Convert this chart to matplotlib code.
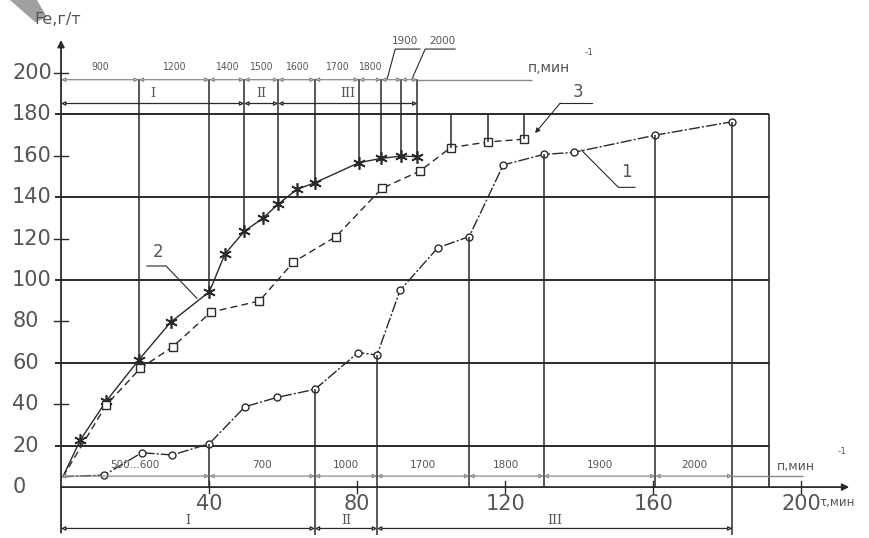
import numpy as np
import matplotlib
matplotlib.use('Agg')
from matplotlib import pyplot as plt
from matplotlib.patches import Polygon

plt.rcParams['font.family'] = ['DejaVu Sans']

# curve 1 (circles): time, min / Fe, g/t
t1 = [0.5, 11.7, 21.8, 30.1, 40.1, 49.7, 58.3, 68.6, 80.3, 85.4, 91.6, 101.8,
      110.3, 119.5, 130.4, 138.6, 160.6, 181.4]
fe1 = [5, 5.8, 16.6, 15.5, 21, 38.8, 43.3, 47.2, 65, 63.8, 95, 115.6,
       121, 155.6, 160.7, 161.7, 170, 176.5]
# curve 2 (stars)
t2 = [0.5, 5.2, 12.2, 21, 29.6, 40.1, 44.3, 49.5, 54.6, 58.7, 63.7, 68.6,
      80.5, 86.5, 92, 96.3]
fe2 = [5, 22.7, 41.5, 61.4, 79.6, 94.4, 112.6, 123.5, 130, 136.7, 143.8, 147,
       156.7, 158.8, 159.9, 159.6]
# curve 3 (squares)
t3 = [0.5, 12.2, 21.4, 30.2, 40.5, 53.6, 62.8, 74.3, 86.7, 97, 105.3, 115.3, 125.2]
fe3 = [5, 39.6, 57.3, 67.8, 84.5, 89.9, 108.7, 121, 144.3, 152.7, 164, 166.7, 168.1]

# speed zones for curve 2 (top) and curve 1 (bottom)
top_edges = [0, 21, 40.1, 49.5, 58.7, 68.6, 80.5, 86.5, 92, 96.3]
top_speeds = ['900', '1200', '1400', '1500', '1600', '1700', '1800', '1900', '2000']
top_stage_edges = [0, 49.5, 58.7, 96.3]
bot_edges = [0, 40.1, 68.6, 85.4, 110.3, 130.4, 160.6, 181.4]
bot_speeds = ['500...600', '700', '1000', '1700', '1800', '1900', '2000']
bot_stage_edges = [0, 68.6, 85.4, 181.4]
stages = ['I', 'II', 'III']
sq_drops = [105.3, 115.3, 125.2]

y_ticks = [0, 20, 40, 60, 80, 100, 120, 140, 160, 180, 200]
grid_y = [20, 60, 100, 140, 180]
x_ticks = [40, 80, 120, 160, 200]

ink = '#2a2a2a'
dim = '#8a8a8a'
txt = '#555555'

fig = plt.figure(figsize=(8.7, 5.38), dpi=100)
ax = fig.add_axes([0, 0, 1, 1])
ax.set_xlim(-16.49, 218.6)
ax.set_ylim(-24.6, 235.3)
ax.axis('off')

# scan shadow in the corner
ax.add_patch(Polygon([(-13.8, 235.3), (-6.5, 235.3), (-3.8, 227), (-7.0, 224.6)],
                     closed=True, color='#a0a0a0', lw=0, zorder=0))

# axes with arrows
ax.annotate('', xy=(213, 0), xytext=(0, 0),
            arrowprops=dict(arrowstyle='-|>', lw=1.3, color=ink, mutation_scale=10,
                            shrinkA=0, shrinkB=0))
ax.annotate('', xy=(0, 216), xytext=(0, -22),
            arrowprops=dict(arrowstyle='-|>', lw=1.3, color=ink, mutation_scale=10,
                            shrinkA=0, shrinkB=0))

# grid
ax.hlines(grid_y, -1.6, 191.4, color=ink, lw=1.4)
ax.vlines(191.4, 0, 180, color=ink, lw=1.2)

# ticks and labels
for v in y_ticks:
    if v not in grid_y and v != 0:
        ax.plot([-1.8, 1.8], [v, v], color=ink, lw=1)
    ax.text(-13.2, v, str(v), ha='left', va='center', fontsize=15, color=txt)
for v in x_ticks:
    ax.plot([v, v], [-3, 3], color=ink, lw=1)
    ax.text(v, -8, str(v), ha='center', va='center', fontsize=15, color=txt)
ax.text(-1, 226, 'Fe,г/т', ha='center', va='center', fontsize=11.5, color=txt)
ax.text(205, -7.5, 'τ,мин', ha='left', va='center', fontsize=8.5, color=txt)

# curves
ax.plot(t2, fe2, color=ink, lw=1, ls='-', marker=(6, 2, 0), ms=9, mew=1.2,
        markevery=list(range(1, len(t2))))
ax.plot(t3, fe3, color=ink, lw=1, ls=(0, (5, 3)), marker='s', ms=5.5, mew=1,
        mfc='white', markevery=list(range(1, len(t3))))
ax.plot(t1, fe1, color=ink, lw=1, ls=(0, (8, 1.5, 1.5, 1.5)), marker='o', ms=5, mew=1,
        mfc='white', markevery=list(range(1, len(t1))))

# drop lines from star points to the top dimension line
for x in top_edges[1:]:
    y = fe2[t2.index(x)] if x in t2 else fe2[-1]
    ax.vlines(x, y, 197, color=ink, lw=1.1)
for x in sq_drops:
    ax.vlines(x, fe3[t3.index(x)], 180, color=ink, lw=1.1)


def dim_chain(edges, y, color=dim, lw=0.9):
    for a, b in zip(edges[:-1], edges[1:]):
        ax.annotate('', xy=(b, y), xytext=(a, y),
                    arrowprops=dict(arrowstyle='<|-|>', lw=lw, color=color,
                                    mutation_scale=6, shrinkA=0, shrinkB=0,
                                    fc='white'))


# top speed dimensions
dim_chain(top_edges, 196.8)
ax.hlines(196.8, 96.3, 127.4, color=dim, lw=1)
for a, b, s in zip(top_edges[:-1], top_edges[1:], top_speeds):
    if s in ('1900', '2000'):
        continue
    ax.text((a + b) / 2, 203, s, ha='center', va='center', fontsize=7.5,
            color=txt, fontstretch='condensed')
ax.text(93, 215.5, '1900', ha='center', va='center', fontsize=7.5, color=txt)
ax.plot([97, 90.3, 88.1], [211.6, 211.6, 197], color=ink, lw=0.8)
ax.text(103, 215.5, '2000', ha='center', va='center', fontsize=7.5, color=txt)
ax.plot([106.5, 98.4, 94.8], [211.6, 211.6, 197], color=ink, lw=0.8)
ax.text(126.2, 202.4, 'п,мин', ha='left', va='center', fontsize=10, color=txt)
ax.text(141.6, 210, '-1', ha='left', va='center', fontsize=6.5, color=txt)

dim_chain(top_stage_edges, 185.3, color=ink, lw=0.9)
for a, b, s in zip(top_stage_edges[:-1], top_stage_edges[1:], stages):
    ax.text((a + b) / 2, 190, s, ha='center', va='center', fontsize=9,
            color=txt, family='DejaVu Serif')

# bottom speed dimensions
for x in bot_edges[1:]:
    y = fe1[t1.index(x)]
    if x in bot_stage_edges[1:]:
        ax.vlines(x, -23, y, color=ink, lw=1.1)
    else:
        ax.vlines(x, 0, y, color=ink, lw=1.1)
dim_chain(bot_edges, 5.3)
ax.hlines(5.3, 181.4, 200.5, color=dim, lw=1)
for a, b, s in zip(bot_edges[:-1], bot_edges[1:], bot_speeds):
    ax.text((a + b) / 2, 10.5, s, ha='center', va='center', fontsize=7.5, color=txt)
ax.text(193.5, 10, 'п,мин', ha='left', va='center', fontsize=9, color=txt)
ax.text(209.8, 17, '-1', ha='left', va='center', fontsize=6.5, color=txt)

dim_chain(bot_stage_edges, -20, color=ink, lw=0.9)
for a, b, s in zip(bot_stage_edges[:-1], bot_stage_edges[1:], stages):
    ax.text((a + b) / 2, -16, s, ha='center', va='center', fontsize=9,
            color=txt, family='DejaVu Serif')

# curve number leaders
ax.plot([23.2, 28.4, 36.7], [106.8, 106.8, 91.2], color=ink, lw=0.8)
ax.text(26.3, 113.5, '2', ha='center', va='center', fontsize=12, color=txt)
ax.annotate('', xy=(128.1, 171), xytext=(134.9, 185.5),
            arrowprops=dict(arrowstyle='-|>', lw=0.8, color=ink, mutation_scale=7,
                            shrinkA=0, shrinkB=0))
ax.plot([134.9, 143.5], [185.5, 185.5], color=ink, lw=0.8)
ax.text(139.7, 191, '3', ha='center', va='center', fontsize=12, color=txt)
ax.plot([140.6, 150.6, 155.1], [162.8, 144.8, 144.8], color=ink, lw=0.8)
ax.text(152.9, 152, '1', ha='center', va='center', fontsize=12, color=txt)

fig.savefig('out.png', dpi=100, facecolor='white')
